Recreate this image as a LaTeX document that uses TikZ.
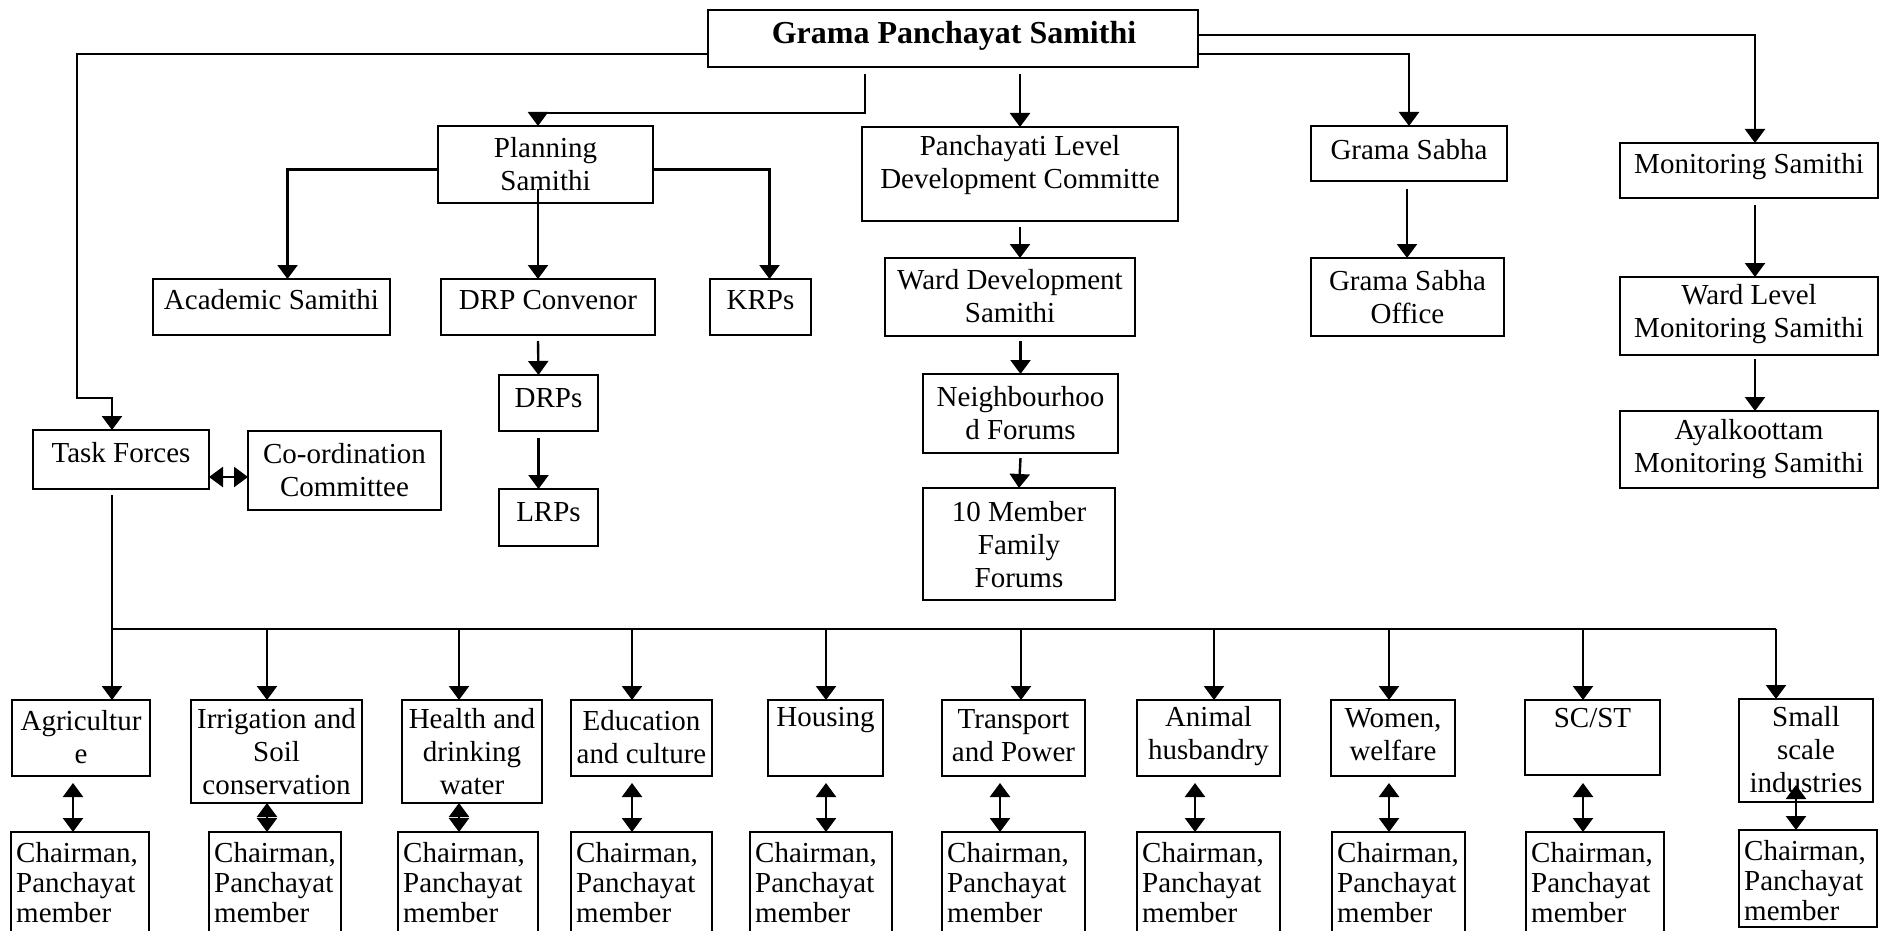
\documentclass[tikz,border=0pt]{standalone}
\usepackage{fontspec}
\setmainfont{Liberation Serif}
\usetikzlibrary{arrows.meta,calc}
\tikzset{
  box/.style={draw, line width=2.6pt, rectangle, inner sep=0pt, outer sep=0pt},
  txt/.style={align=center, inner sep=0pt, font=\fontsize{29}{33}\selectfont},
  ctxt/.style={align=left, inner sep=0pt, font=\fontsize{29}{30}\selectfont},
  ln/.style={line width=2.4pt},
  arr/.style={ln, -{Triangle[length=14pt,width=20pt]}},
  darr/.style={ln, {Triangle[length=14pt,width=20pt]}-{Triangle[length=14pt,width=20pt]}}
}
\newcommand{\mybox}[7]{%
  \node[box, minimum width={#4-#2}, minimum height={#5-#3}] (#1) at ({(#2+#4)/2},{(#3+#5)/2}) {};
  \node[txt] (#1-t) at ({(#2+#4)/2},#7) {#6};}
\newcommand{\chbox}[5]{%
  \node[box, minimum width={#3-#2}, minimum height={#5-#4}] (#1) at ({(#2+#3)/2},{(#4+#5)/2}) {};
  \node[ctxt, anchor=west] (#1-t) at ($(#1.north west)+(5,51)$) {Chairman,\\Panchayat\\member};}
\begin{document}
\begin{tikzpicture}[x=1pt,y=-1pt]
\useasboundingbox (0,0) rectangle (1885,931);
\clip (0,0) rectangle (1885,931);
% top level
\node[box, minimum width=490, minimum height=57] (gps) at (953,38.5) {};
\node[inner sep=0pt, font=\fontsize{32}{36}\selectfont\bfseries] (gps-t) at (954,36) {Grama Panchayat Samithi};
\mybox{ps}{438}{126}{653}{203}{Planning\\Samithi}{164}
\mybox{pl}{862}{127}{1178}{221}{Panchayati Level\\Development Committe}{165}
\mybox{gs}{1311}{126}{1507}{181}{Grama Sabha}{150}
\mybox{ms}{1620}{143}{1878}{198}{Monitoring Samithi}{167}
\mybox{acad}{153}{279}{390}{335}{Academic Samithi}{300}
\mybox{drpc}{441}{279}{655}{335}{DRP Convenor}{300}
\mybox{krp}{710}{279}{811}{335}{KRPs}{300}
\mybox{wd}{885}{258}{1135}{336}{Ward Development\\Samithi}{296}
\mybox{gso}{1311}{258}{1504}{336}{Grama Sabha\\Office}{297}
\mybox{wlm}{1620}{277}{1878}{355}{Ward Level\\Monitoring Samithi}{314}
\mybox{drps}{499}{375}{598}{431}{DRPs}{398}
\mybox{nf}{923}{374}{1118}{453}{Neighbourhoo\\d Forums}{413}
\mybox{ayal}{1620}{411}{1878}{488}{Ayalkoottam\\Monitoring Samithi}{449}
\mybox{tf}{33}{430}{209}{489}{Task Forces}{453}
\mybox{co}{248}{431}{441}{510}{Co-ordination\\Committee}{470}
\mybox{lrps}{499}{489}{598}{546}{LRPs}{512}
\mybox{fm}{923}{488}{1115}{600}{10 Member\\Family\\Forums}{545}
% task force row
\mybox{agr}{12}{700}{150}{776}{Agricultur\\e}{737}
\mybox{irr}{191}{700}{362}{803}{Irrigation and\\Soil\\conservation}{752}
\mybox{hea}{402}{700}{542}{803}{Health and\\drinking\\water}{752}
\mybox{edu}{571}{700}{712}{776}{Education\\and culture}{737}
\mybox{hou}{768}{700}{883}{776}{Housing}{720}
\mybox{tra}{942}{700}{1085}{776}{Transport\\and Power}{736}
\mybox{ani}{1137}{700}{1280}{776}{Animal\\husbandry}{736}
\mybox{wom}{1331}{700}{1455}{776}{Women,\\welfare}{735}
\mybox{sc}{1525}{700}{1660}{775}{SC/ST}{718}
\mybox{sm}{1739}{699}{1873}{802}{Small\\scale\\industries}{750}
% chairman row
\chbox{c1}{11}{149}{832}{962}
\chbox{c2}{209}{341}{832}{962}
\chbox{c3}{398}{538}{832}{962}
\chbox{c4}{571}{712}{832}{962}
\chbox{c5}{750}{892}{832}{962}
\chbox{c6}{942}{1085}{832}{962}
\chbox{c7}{1137}{1280}{832}{962}
\chbox{c8}{1332}{1465}{832}{962}
\chbox{c9}{1526}{1664}{832}{962}
\chbox{c10}{1739}{1877}{830}{927}
% connectors from the top
\draw[arr] ($(gps.south west)+(0,-13)$) -- ++(-631,0) -- ++(0,344) -| ($(tf.north)+(-9,0)$);
\coordinate (gp) at ($(gps.south)+(-88,7)$);
\draw[arr] (gp) -- ++(0,39) -| ($(ps.north)+(-7.5,0)$);
\draw[arr] ($(gps.south -| pl.north)+(0,7)$) -- (pl.north);
\draw[arr] ($(gps.south east)+(0,-13)$) -| (gs.north);
\draw[arr] ($(gps.north east)+(0,25)$) -| ($(ms.north)+(6,0)$);
% planning samithi
\draw[arr] ($(ps.west)+(0,5)$) -| ($(acad.north)+(16,0)$);
\draw[arr] ($(ps.east)+(0,5)$) -| ($(krp.north)+(9,0)$);
\coordinate (pin) at ($(ps.south)+(-7.5,-14)$);
\draw[arr] (pin) -- (pin |- drpc.north);
\draw[arr] ($(drpc.south)+(-10,6)$) -- ($(drps.north)+(-10,0)$);
\draw[arr] ($(drps.south)+(-10,7)$) -- ($(lrps.north)+(-10,0)$);
% development chain
\draw[arr] ($(pl.south)+(0,6)$) -- (pl.south |- wd.north);
\draw[arr] ($(wd.south -| nf.north)+(0,5)$) -- (nf.north);
\draw[arr] ($(nf.south)+(0,5)$) -- (fm.north);
\draw[arr] ($(gs.south)+(-2,8)$) -- ($(gso.north)+(-0.5,0)$);
\draw[arr] ($(ms.south)+(6,7)$) -- ($(wlm.north)+(6,0)$);
\draw[arr] ($(wlm.south)+(6,4)$) -- ($(ayal.north)+(6,0)$);
% task forces
\coordinate (tfe) at ($(tf.east)+(0,17.5)$);
\draw[darr] (tfe) -- (tfe -| co.west);
\coordinate (bus) at (0,629);
\coordinate (tfb) at ($(tf.south)+(-9,6)$);
\draw[ln] (tfb) |- ($(bus -| sm.north)+(-30,0)$);
\foreach \n/\dx in {agr/31,irr/-9.5,hea/-13,edu/-9.5,hou/0.5,tra/7.5,ani/5.5,wom/-4,sc/-9.5,sm/-30}{
  \coordinate (tt) at ($(\n.north)+(\dx,0)$);
  \draw[arr] (tt |- bus) -- (tt);
}
\foreach \c/\dx/\len in {c1/-7/49,c2/-8/29,c3/-9/29,c4/-9.5/49,c5/5/49,c6/-13.5/49,c7/-13.5/49,c8/-9.5/49,c9/-12/49,c10/-12/45}{
  \draw[darr] ($(\c.north)+(\dx,-\len)$) -- ($(\c.north)+(\dx,0)$);
}
\end{tikzpicture}
\end{document}
